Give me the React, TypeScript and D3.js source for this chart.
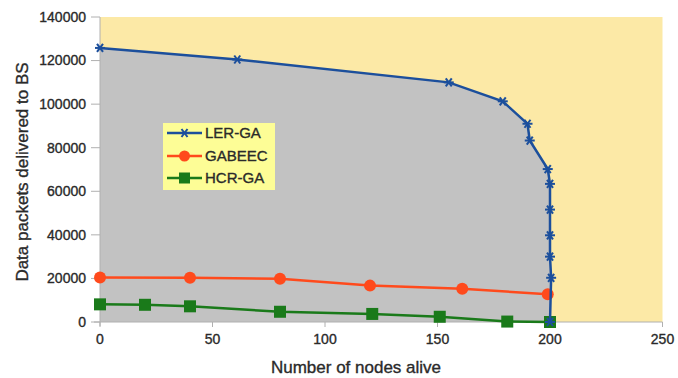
import React from "react";
import * as d3 from "d3";

const lerX = [0, 61, 155, 179, 190, 191, 199, 200, 200, 200, 200, 200.5, 200];
const lerY = [125800, 120500, 110000, 101300, 91000, 83300, 70200, 63400, 51600, 39800, 30000, 20300, 0];
const gabX = [0, 40, 80, 120, 161, 199];
const gabY = [20400, 20300, 19800, 16700, 15300, 12700];
const hcrX = [0, 20, 40, 80, 121, 151, 181, 200];
const hcrY = [8100, 7900, 7200, 4700, 3700, 2400, 200, 0];
const xTicks = [0, 50, 100, 150, 200, 250];
const yTicks = [0, 20000, 40000, 60000, 80000, 100000, 120000, 140000];
const seriesNames = ["LER-GA", "GABEEC", "HCR-GA"];

const W = 678, H = 378;
const L = 100, R = 662.5, T = 17, B = 322;

const x = d3.scaleLinear().domain([0, 250]).range([L, R]);
const y = d3.scaleLinear().domain([0, 140000]).range([B, T]);

const colors = ["#1c4f9c", "#ff4a1c", "#1a7a1a"];
const font = "'Liberation Sans', Arial, sans-serif";
const txt = "#2a2a2a";

function star(cx: number, cy: number, c: string, key: string) {
  const s = 5;
  return (
    <g key={key} stroke={c} strokeWidth={2}>
      <line x1={cx - s} y1={cy} x2={cx + s} y2={cy} />
      <line x1={cx - s * 0.6} y1={cy - s * 0.8} x2={cx + s * 0.6} y2={cy + s * 0.8} />
      <line x1={cx - s * 0.6} y1={cy + s * 0.8} x2={cx + s * 0.6} y2={cy - s * 0.8} />
    </g>
  );
}

export default function App() {
  const pts = (xs: number[], ys: number[]) => xs.map((v, i) => [x(v), y(ys[i])] as [number, number]);
  const ler = pts(lerX, lerY);
  const gab = pts(gabX, gabY);
  const hcr = pts(hcrX, hcrY);
  const line = d3.line();
  const area = d3.area<[number, number]>().x(d => d[0]).y0(y(0)).y1(d => d[1]);

  const legendY = [133, 156, 178];
  const tStyle = { stroke: txt, strokeWidth: 0.35 } as any;
  return (
    <svg width={W} height={H} style={{ position: "absolute", left: 0, top: 0, background: "#fff" }}>
      <rect x={L} y={T} width={R - L} height={B - T} fill="#fce9a6" />
      <path d={area(ler) || ""} fill="#c2c2c2" />
      {/* axes */}
      <line x1={L} y1={T} x2={L} y2={B + 4} stroke="#b0b0b0" />
      <line x1={L - 6} y1={B} x2={R} y2={B} stroke="#b0b0b0" />
      {yTicks.map(t => (
        <g key={"y" + t}>
          <line x1={L - 9} x2={L} y1={y(t)} y2={y(t)} stroke="#b0b0b0" />
          <text x={L - 14} y={y(t)} dy="0.35em" textAnchor="end" fontFamily={font} fontSize={14} fill={txt} {...tStyle}>{t}</text>
        </g>
      ))}
      {xTicks.map(t => (
        <g key={"x" + t}>
          <line x1={x(t)} x2={x(t)} y1={B} y2={B + 5} stroke="#b0b0b0" />
          <text x={x(t)} y={B + 22} textAnchor="middle" fontFamily={font} fontSize={14} fill={txt} {...tStyle}>{t}</text>
        </g>
      ))}
      {/* series */}
      <path d={line(hcr) || ""} fill="none" stroke={colors[2]} strokeWidth={2.5} />
      {hcr.map((p, i) => <rect key={"h" + i} x={p[0] - 6} y={p[1] - 6} width={12} height={12} fill={colors[2]} />)}
      <path d={line(gab) || ""} fill="none" stroke={colors[1]} strokeWidth={2.5} />
      {gab.map((p, i) => <circle key={"g" + i} cx={p[0]} cy={p[1]} r={6} fill={colors[1]} />)}
      <path d={line(ler) || ""} fill="none" stroke={colors[0]} strokeWidth={2.5} />
      {ler.map((p, i) => star(p[0], p[1], colors[0], "l" + i))}
      {/* legend */}
      <rect x={163} y={123} width={112} height={67} fill="#fdfd96" />
      {seriesNames.map((n, i) => (
        <g key={n}>
          <line x1={167} x2={202} y1={legendY[i]} y2={legendY[i]} stroke={colors[i]} strokeWidth={2.5} />
          {i === 0 && star(184.5, legendY[i], colors[0], "ls")}
          {i === 1 && <circle cx={184.5} cy={legendY[i]} r={5.5} fill={colors[1]} />}
          {i === 2 && <rect x={179} y={legendY[i] - 5.5} width={11} height={11} fill={colors[2]} />}
          <text x={205} y={legendY[i]} dy="0.36em" fontFamily={font} fontSize={15} fill={txt} {...tStyle}>{n}</text>
        </g>
      ))}
      {/* axis labels */}
      <text x={356} y={373} textAnchor="middle" fontFamily={font} fontSize={17} fill={txt} {...tStyle}>Number of nodes alive</text>
      <text transform={`translate(28,172) rotate(-90)`} textAnchor="middle" fontFamily={font} fontSize={17} fill={txt} {...tStyle}>Data packets delivered to BS</text>
    </svg>
  );
}
